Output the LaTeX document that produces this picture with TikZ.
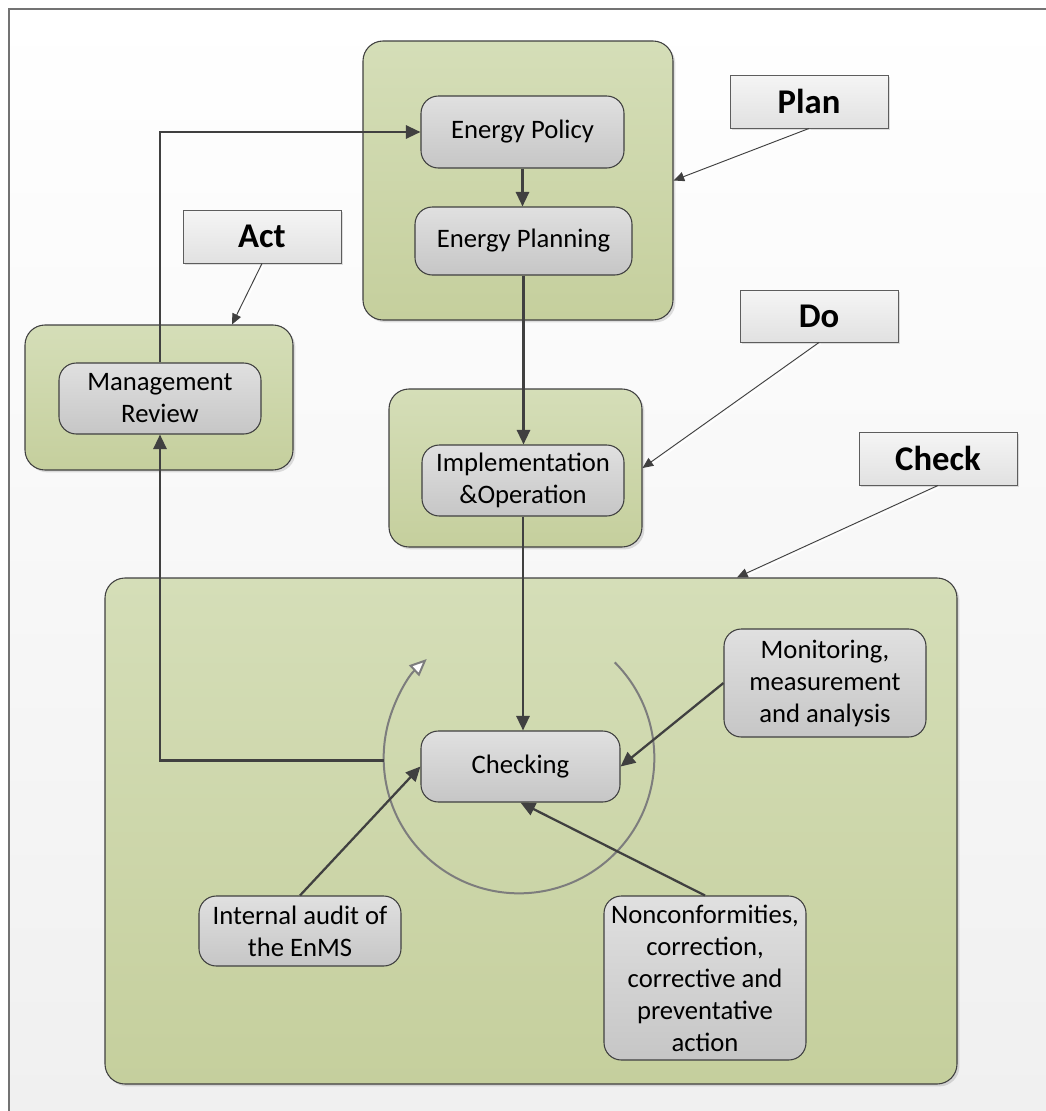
\documentclass[tikz,border=0pt]{standalone}
\usepackage{fontspec}
\setmainfont{Carlito}
\usetikzlibrary{arrows.meta,shadows,calc}

\definecolor{grpTop}{RGB}{213,222,184}
\definecolor{grpBot}{RGB}{197,207,157}
\definecolor{boxTop}{RGB}{224,224,224}
\definecolor{boxBot}{RGB}{198,198,198}
\definecolor{lblTop}{RGB}{245,245,245}
\definecolor{lblBot}{RGB}{225,225,225}
\definecolor{edge}{RGB}{64,64,64}
\definecolor{ring}{RGB}{125,125,125}
\definecolor{frameLine}{RGB}{115,115,115}
\definecolor{paperBot}{RGB}{240,240,240}

\begin{document}
\begin{tikzpicture}[x=0.75pt,y=-0.75pt,
  group/.style={rounded corners=15pt, draw=edge, line width=0.8pt,
    top color=grpTop, bottom color=grpBot,
    drop shadow={shadow xshift=1.8pt, shadow yshift=-1.8pt, fill=black, opacity=0.12}},
  stage/.style={rounded corners=13pt, draw=edge, line width=0.8pt,
    top color=boxTop, bottom color=boxBot, inner sep=0pt, align=center,
    font=\fontsize{20}{24}\selectfont},
  phase/.style={draw=edge!85, line width=0.7pt, top color=lblTop, bottom color=lblBot,
    inner sep=0pt, font=\fontsize{26}{30}\selectfont\bfseries,
    drop shadow={shadow xshift=1.8pt, shadow yshift=-1.8pt, fill=black, opacity=0.12}},
  flow/.style={draw=edge, line width=1.7pt, -{Triangle[length=11pt,width=10pt]}},
  pointer/.style={draw=edge, line width=0.7pt, -{Triangle[length=8pt,width=7pt]},
    preaction={draw=white, line width=1.1pt, arrows=-, shorten >=6pt,
      transform canvas={shift={(1.2pt,-1.2pt)}}}},
]
\useasboundingbox (0,0) rectangle (1046,1111);

% paper and frame
\fill[white] (0,0) rectangle (1046,1111);
\shade[top color=white, bottom color=paperBot] (9,9) rectangle (1046,1111);
\draw[frameLine, line width=1.4pt] (9,1111) -- (9,9) -- (1046,9);

% phase groups
\node[group, minimum width=232.5pt, minimum height=209.25pt] (plangrp) at (518,180.5) {};
\node[group, minimum width=201pt, minimum height=108.75pt] (actgrp) at (159,397.5) {};
\node[group, minimum width=189.75pt, minimum height=118.5pt] (dogrp) at (515.5,468) {};
\node[group, minimum width=639pt, minimum height=379.5pt] (checkgrp) at (531,831) {};

% process steps
\node[stage, minimum width=152.25pt, minimum height=54pt] (policy) at (522.5,132) {Energy Policy};
\node[stage, minimum width=162.75pt, minimum height=51pt] (planning) at (523.5,241) {Energy Planning};
\node[stage, minimum width=151.5pt, minimum height=53.25pt] (review) at (160,398.5) {Management\\Review};
\node[stage, minimum width=151.5pt, minimum height=53.25pt] (impl) at (523,480.5) {Implementation\\\&Operation};
\node[stage, minimum width=149.25pt, minimum height=53.25pt] (checking) at (520.5,766.5) {Checking};
\node[stage, minimum width=151.5pt, minimum height=81pt] (monitor) at (825,683) {Monitoring,\\measurement\\and analysis};
\node[stage, minimum width=151.5pt, minimum height=52.5pt] (audit) at (300,931) {Internal audit of\\the EnMS};
\node[stage, minimum width=151.5pt, minimum height=123pt] (noncon) at (705,978) {Nonconformities,\\correction,\\corrective and\\preventative\\action};

% phase labels
\node[phase, minimum width=118.5pt, minimum height=39.75pt] (plan) at (809,101.5) {Plan};
\node[phase, minimum width=118.5pt, minimum height=39.75pt] (act) at (262,236.5) {Act};
\node[phase, minimum width=118.5pt, minimum height=39pt] (do) at (819,316) {Do};
\node[phase, minimum width=118.5pt, minimum height=39.75pt] (check) at (938,458.5) {Check};

% checking cycle ring
\coordinate (hub) at (519,758);
\draw[ring, line width=1.5pt, -{Triangle[length=13pt,width=11pt,fill=white]}]
  ($(hub)+(45:101.5pt)$) arc[start angle=45, end angle=-227, radius=101.5pt];
\coordinate (cl) at ($(hub)+(181:101.5pt)$);

% flow connectors
\draw[flow] (policy.south) -- (policy.south |- planning.north);
\draw[flow] (planning.south) -- (planning.south |- impl.north);
\draw[flow] (impl.south) -- (impl.south |- checking.north);
\draw[flow] (review.north) |- (policy.west);
\draw[flow] (cl) -| (review.south);
\draw[flow] (monitor.west) -- (checking.east);
\draw[flow] (audit.north) -- (checking.west);
\draw[flow] (noncon.north) -- (checking.south);

% label pointers
\draw[pointer] (plan.south) -- (plangrp.east);
\draw[pointer] (act.south) -- ($(actgrp.north)+(73,0)$);
\draw[pointer] (do.south) -- (dogrp.east);
\draw[pointer] (check.south) -- ($(checkgrp.north)+(206,0)$);
\end{tikzpicture}
\end{document}
